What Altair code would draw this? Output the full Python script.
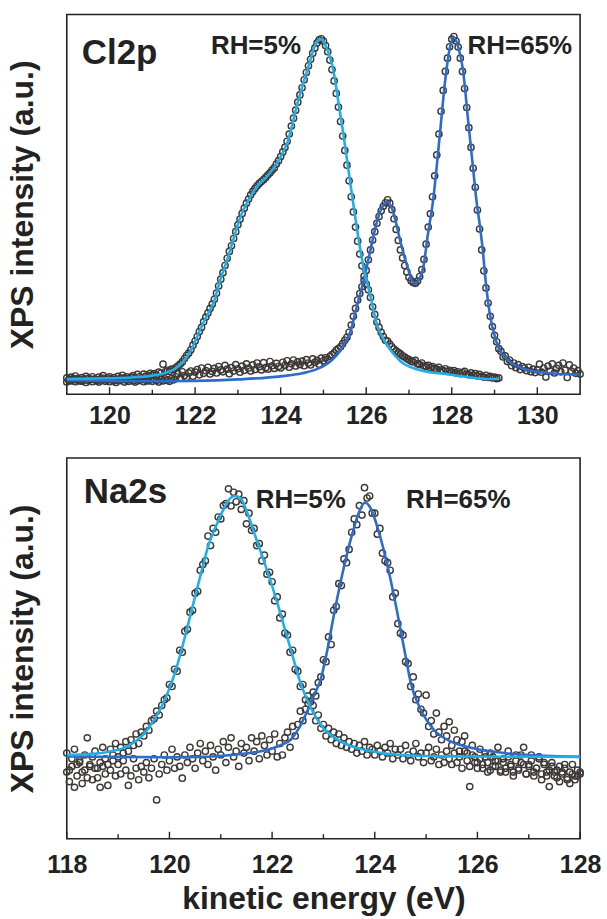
import altair as alt
import pandas as pd

FONT = "Liberation Sans"
CYAN = "#22aee6"
BLUE = "#2c6ccb"
INK = "#222222"
PT = "#3d3835"

# ---------------- top panel (Cl2p) ----------------
TOP_X = [
    119.0, 119.05, 119.1, 119.15, 119.2, 119.25, 119.3, 119.35, 119.4, 119.45,
    119.5, 119.55, 119.6, 119.65, 119.7, 119.75, 119.8, 119.85, 119.9, 119.95,
    120.0, 120.05, 120.1, 120.15, 120.2, 120.25, 120.3, 120.35, 120.4, 120.45,
    120.5, 120.55, 120.6, 120.65, 120.7, 120.75, 120.8, 120.85, 120.9, 120.95,
    121.0, 121.05, 121.1, 121.15, 121.2, 121.25, 121.3, 121.35, 121.4, 121.45,
    121.5, 121.55, 121.6, 121.65, 121.7, 121.75, 121.8, 121.85, 121.9, 121.95,
    122.0, 122.05, 122.1, 122.15, 122.2, 122.25, 122.3, 122.35, 122.4, 122.45,
    122.5, 122.55, 122.6, 122.65, 122.7, 122.75, 122.8, 122.85, 122.9, 122.95,
    123.0, 123.05, 123.1, 123.15, 123.2, 123.25, 123.3, 123.35, 123.4, 123.45,
    123.5, 123.55, 123.6, 123.65, 123.7, 123.75, 123.8, 123.85, 123.9, 123.95,
    124.0, 124.05, 124.1, 124.15, 124.2, 124.25, 124.3, 124.35, 124.4, 124.45,
    124.5, 124.55, 124.6, 124.65, 124.7, 124.75, 124.8, 124.85, 124.9, 124.95,
    125.0, 125.05, 125.1, 125.15, 125.2, 125.25, 125.3, 125.35, 125.4, 125.45,
    125.5, 125.55, 125.6, 125.65, 125.7, 125.75, 125.8, 125.85, 125.9, 125.95,
    126.0, 126.05, 126.1, 126.15, 126.2, 126.25, 126.3, 126.35, 126.4, 126.45,
    126.5, 126.55, 126.6, 126.65, 126.7, 126.75, 126.8, 126.85, 126.9, 126.95,
    127.0, 127.05, 127.1, 127.15, 127.2, 127.25, 127.3, 127.35, 127.4, 127.45,
    127.5, 127.55, 127.6, 127.65, 127.7, 127.75, 127.8, 127.85, 127.9, 127.95,
    128.0, 128.05, 128.1, 128.15, 128.2, 128.25, 128.3, 128.35, 128.4, 128.45,
    128.5, 128.55, 128.6, 128.65, 128.7, 128.75, 128.8, 128.85, 128.9, 128.95,
    129.0, 129.05, 129.1, 129.15, 129.2, 129.25, 129.3, 129.35, 129.4, 129.45,
    129.5, 129.55, 129.6, 129.65, 129.7, 129.75, 129.8, 129.85, 129.9, 129.95,
    130.0, 130.05, 130.1, 130.15, 130.2, 130.25, 130.3, 130.35, 130.4, 130.45,
    130.5, 130.55, 130.6, 130.65, 130.7, 130.75, 130.8, 130.85, 130.9, 130.95,
    131.0,
]
TOP_RH5 = [
    4.3, 3.6, 4.5, 3.9, 4.8, 4.1, 3.5, 4.4, 4.0, 4.7,
    4.2, 3.8, 4.6, 4.0, 3.7, 4.5, 4.1, 4.9, 3.9, 4.3,
    4.6, 4.0, 4.4, 3.8, 4.7, 4.2, 5.0, 4.3, 4.6, 4.1,
    4.5, 4.9, 4.2, 5.2, 4.6, 4.4, 5.3, 4.8, 5.0, 5.5,
    5.1, 5.4, 5.0, 5.8, 5.5, 7.9, 5.9, 6.3, 6.0, 6.6,
    6.5, 7.0, 7.5, 7.9, 8.5, 9.4, 10.2, 10.8, 11.7, 12.9,
    14.0, 15.2, 16.5, 17.6, 19.1, 20.3, 21.4, 22.6, 23.7, 25.0,
    26.6, 28.5, 30.3, 32.0, 33.9, 35.8, 37.6, 39.1, 41.0, 42.8,
    44.6, 46.1, 47.6, 49.0, 50.3, 51.4, 52.5, 53.4, 54.2, 54.9,
    55.5, 56.0, 56.5, 57.1, 57.7, 58.3, 59.0, 59.6, 60.6, 61.5,
    62.6, 63.8, 65.0, 66.6, 68.5, 70.6, 72.7, 74.8, 76.9, 78.8,
    80.7, 82.8, 84.7, 86.5, 88.2, 89.8, 91.2, 92.5, 93.3, 93.6,
    93.0, 91.8, 90.2, 88.0, 85.5, 82.5, 79.2, 75.6, 71.8, 68.0,
    64.2, 60.3, 56.2, 52.0, 48.0, 44.0, 40.3, 36.9, 33.8, 31.1,
    29.0, 27.5, 25.5, 23.0, 21.0, 19.0, 17.6, 16.3, 15.2, 14.2,
    14.0, 13.2, 12.5, 11.9, 11.4, 11.0, 10.6, 10.1, 9.8, 9.4,
    9.1, 8.7, 8.5, 8.9, 8.0, 7.8, 8.2, 7.5, 7.3, 7.6,
    7.0, 7.3, 6.8, 6.6, 7.1, 6.4, 6.2, 6.7, 6.0, 6.3,
    5.8, 6.2, 5.6, 5.9, 5.4, 5.7, 6.0, 5.3, 5.1, 5.6,
    5.0, 5.4, 4.8, 5.2, 4.7, 4.5, 5.0, 4.4, 4.7, 4.3,
    4.5, 4.1, 4.3,
]
TOP_RH65 = [
    3.2, 3.9, 3.5, 4.1, 3.3, 3.7, 4.0, 3.4, 3.8, 3.1,
    3.6, 4.0, 3.3, 3.9, 3.5, 3.2, 3.8, 4.2, 3.4, 3.7,
    3.3, 3.9, 3.5, 3.1, 3.8, 3.6, 4.1, 3.2, 3.7, 3.4,
    3.9, 3.5, 3.2, 3.8, 3.6, 4.2, 3.3, 3.7, 3.5, 3.9,
    3.4, 3.8, 3.6, 3.2, 3.9, 3.5, 4.0, 3.7, 3.4, 4.1,
    3.8, 4.6, 5.4, 4.2, 5.9, 4.9, 4.4, 5.6, 6.1, 4.7,
    5.8, 6.5, 5.1, 6.9, 5.5, 6.2, 7.1, 5.3, 6.0, 6.8,
    5.6, 7.3, 6.4, 5.9, 7.6, 6.6, 5.4, 7.0, 6.1, 7.8,
    6.7, 5.8, 7.4, 6.3, 8.0, 6.9, 6.1, 7.7, 6.5, 8.2,
    7.2, 6.4, 8.3, 7.0, 6.6, 8.6, 7.5, 6.8, 8.1, 7.3,
    6.9, 8.4, 7.6, 8.8, 7.1, 8.0, 9.0, 7.4, 8.5, 7.8,
    8.7, 7.5, 9.1, 8.2, 7.7, 9.3, 8.4, 8.9, 7.9, 9.5,
    8.8, 9.6, 9.2, 10.0, 10.4, 10.9, 11.6, 12.0, 12.5, 13.3,
    14.2, 15.0, 16.3, 18.2, 20.5, 22.6, 24.8, 26.5, 28.3, 30.0,
    32.6, 35.4, 38.0, 40.6, 42.8, 45.0, 46.8, 48.3, 49.5, 50.4,
    51.2, 50.3, 48.6, 46.2, 43.4, 40.5, 38.0, 35.9, 33.9, 32.2,
    30.8, 29.9, 29.4, 29.2, 29.8, 31.0, 32.8, 35.5, 39.5, 44.0,
    47.5, 52.0, 57.5, 63.0, 68.5, 74.5, 80.0, 85.0, 88.5, 91.5,
    93.5, 94.2, 93.0, 91.4, 88.5, 85.0, 80.5, 75.5, 70.2, 65.0,
    59.5, 54.5, 48.5, 43.5, 38.0, 32.5, 28.0, 24.0, 20.5, 17.8,
    15.5, 13.8, 12.0, 11.3, 9.8, 10.1, 8.6, 9.0, 7.5, 8.2,
    7.0, 7.8, 6.5, 7.3, 6.9, 6.2, 7.1, 5.9, 6.6, 5.7,
    6.4, 7.9, 5.8, 6.9, 4.5, 7.4, 6.1, 8.0, 5.6, 6.8,
    7.6, 5.9, 8.2, 6.3, 4.4, 7.7, 6.0, 6.9, 5.5, 6.2,
    5.3,
]
TOP_FIT5_X = [119.0, 119.5, 120.0, 120.5, 121.0, 121.3, 121.5, 121.7, 121.9, 122.0,
              122.2, 122.44, 122.6, 122.76, 122.9, 123.07, 123.23, 123.47, 123.65, 123.84,
              124.0, 124.16, 124.4, 124.63, 124.86, 124.95, 125.05, 125.24, 125.35, 125.47,
              125.58, 125.7, 125.82, 125.94, 126.09, 126.25, 126.48, 126.8, 127.18, 127.95,
              128.95, 129.1]
TOP_FIT5_Y = [4.0, 4.1, 4.2, 4.4, 4.9, 5.6, 6.5, 8.3, 11.5, 13.9,
              19.0, 24.4, 30.5, 35.7, 41.0, 47.0, 50.7, 55.0, 57.0, 59.6,
              62.5, 66.4, 76.9, 85.6, 93.0, 93.5, 91.8, 84.8, 76.9, 68.2,
              59.4, 50.0, 41.0, 33.2, 26.2, 18.4, 13.1, 8.7, 6.6, 5.2,
              4.0, 4.0]
TOP_FIT65_X = [119.0, 120.0, 121.0, 122.0, 123.0, 124.0, 124.5, 124.8, 125.0, 125.2,
               125.4, 125.63, 125.79, 125.93, 126.09, 126.25, 126.4, 126.5, 126.6, 126.8,
               126.95, 127.14, 127.33, 127.44, 127.56, 127.72, 127.84, 127.95, 128.05, 128.15,
               128.26, 128.38, 128.5, 128.58, 128.65, 128.72, 128.8, 128.88, 129.04, 129.27,
               129.74, 130.2, 131.0]
TOP_FIT65_Y = [3.7, 3.5, 3.4, 3.5, 3.9, 4.7, 5.5, 6.4, 7.4, 9.0,
               11.6, 16.5, 23.5, 29.5, 37.5, 45.4, 49.8, 50.6, 49.0, 40.2,
               34.0, 29.1, 33.2, 42.0, 50.7, 68.2, 82.0, 91.0, 94.0, 91.5,
               85.6, 72.4, 59.3, 50.7, 45.0, 38.5, 29.0, 21.8, 13.9, 9.5,
               6.5, 5.6, 5.2]
TOP_MAJOR = [120, 122, 124, 126, 128, 130]
TOP_MINOR = [121, 123, 125, 127, 129]
TOP_LABELS = ["Cl2p", "RH=5%", "RH=65%"]
TOP_LABEL_X = [119.35, 122.37, 128.37]
TOP_LABEL_Y = [86.9, 89.5, 89.5]

# ---------------- bottom panel (Na2s) ----------------
BOT_X = [
    118.0, 118.05, 118.1, 118.15, 118.2, 118.25, 118.3, 118.35, 118.4, 118.45,
    118.5, 118.55, 118.6, 118.65, 118.7, 118.75, 118.8, 118.85, 118.9, 118.95,
    119.0, 119.05, 119.1, 119.15, 119.2, 119.25, 119.3, 119.35, 119.4, 119.45,
    119.5, 119.55, 119.6, 119.65, 119.7, 119.75, 119.8, 119.85, 119.9, 119.95,
    120.0, 120.05, 120.1, 120.15, 120.2, 120.25, 120.3, 120.35, 120.4, 120.45,
    120.5, 120.55, 120.6, 120.65, 120.7, 120.75, 120.8, 120.85, 120.9, 120.95,
    121.0, 121.05, 121.1, 121.15, 121.2, 121.25, 121.3, 121.35, 121.4, 121.45,
    121.5, 121.55, 121.6, 121.65, 121.7, 121.75, 121.8, 121.85, 121.9, 121.95,
    122.0, 122.05, 122.1, 122.15, 122.2, 122.25, 122.3, 122.35, 122.4, 122.45,
    122.5, 122.55, 122.6, 122.65, 122.7, 122.75, 122.8, 122.85, 122.9, 122.95,
    123.0, 123.05, 123.1, 123.15, 123.2, 123.25, 123.3, 123.35, 123.4, 123.45,
    123.5, 123.55, 123.6, 123.65, 123.7, 123.75, 123.8, 123.85, 123.9, 123.95,
    124.0, 124.05, 124.1, 124.15, 124.2, 124.25, 124.3, 124.35, 124.4, 124.45,
    124.5, 124.55, 124.6, 124.65, 124.7, 124.75, 124.8, 124.85, 124.9, 124.95,
    125.0, 125.05, 125.1, 125.15, 125.2, 125.25, 125.3, 125.35, 125.4, 125.45,
    125.5, 125.55, 125.6, 125.65, 125.7, 125.75, 125.8, 125.85, 125.9, 125.95,
    126.0, 126.05, 126.1, 126.15, 126.2, 126.25, 126.3, 126.35, 126.4, 126.45,
    126.5, 126.55, 126.6, 126.65, 126.7, 126.75, 126.8, 126.85, 126.9, 126.95,
    127.0, 127.05, 127.1, 127.15, 127.2, 127.25, 127.3, 127.35, 127.4, 127.45,
    127.5, 127.55, 127.6, 127.65, 127.7, 127.75, 127.8, 127.85, 127.9, 127.95,
    128.0,
]
BOT_RH5 = [
    22.5, 18.0, 21.0, 23.5, 19.5, 20.5, 17.5, 22.0, 26.5, 19.0,
    21.5, 23.0, 18.5, 20.0, 24.0, 21.0, 19.5, 23.5, 22.0, 25.0,
    21.5, 24.0, 22.5, 25.5, 23.0, 26.0, 24.5, 27.5, 25.0, 28.0,
    27.0, 29.5, 28.5, 31.0, 31.5, 33.5, 32.5, 35.0, 36.5, 37.0,
    40.5, 40.0, 44.5, 44.0, 49.5, 49.0, 54.5, 55.0, 59.5, 60.0,
    64.5, 65.0, 70.5, 72.0, 73.0, 79.5, 77.0, 81.5, 80.5, 84.5,
    84.0, 87.5, 88.0, 91.9, 87.4, 91.0, 88.5, 90.5, 86.5, 88.8,
    82.7, 85.5, 81.0, 81.5, 77.0, 77.5, 73.0, 74.5, 69.5, 70.0,
    67.5, 62.5, 63.5, 58.0, 59.0, 54.0, 53.5, 49.0, 49.5, 44.5,
    44.0, 40.0, 40.5, 36.5, 37.5, 33.5, 35.0, 31.0, 32.5, 29.0,
    30.0, 27.0, 29.0, 26.0, 28.0, 25.0, 27.5, 24.5, 26.5, 24.0,
    25.5, 23.5, 25.0, 22.5, 24.5, 23.0, 25.5, 22.0, 24.0, 23.5,
    22.0, 24.5, 23.0, 21.5, 24.0, 22.5, 25.0, 21.0, 23.5, 22.0,
    23.5, 21.0, 24.5, 22.0, 20.5, 23.0, 25.0, 21.5, 22.5, 20.0,
    22.5, 24.0, 20.5, 21.5, 23.5, 19.5, 22.0, 20.0, 23.0, 21.0,
    19.5, 22.5, 20.0, 21.5, 18.5, 23.0, 20.5, 19.0, 22.0, 20.0,
    18.5, 21.0, 19.5, 22.5, 20.0, 18.0, 21.5, 19.0, 20.5, 17.5,
    20.0, 18.5, 21.5, 19.0, 17.5, 20.5, 18.0, 22.0, 19.5, 17.0,
    19.0, 20.5, 17.5, 18.5, 21.0, 17.0, 19.5, 16.5, 18.0, 20.0,
    17.5, 16.0, 19.0, 17.0, 18.5, 15.5, 17.5, 19.5, 16.5, 18.0,
    17.0,
]
BOT_RH65 = [
    17.5, 15.0, 19.0, 13.5, 16.5, 20.0, 14.5, 18.0, 16.0, 19.5,
    15.5, 18.5, 16.0, 13.5, 19.0, 17.0, 14.0, 18.0, 20.5, 16.5,
    19.5, 17.0, 20.5, 18.0, 14.0, 16.5, 21.0, 18.5, 15.5, 19.0,
    17.5, 20.0, 16.0, 18.5, 21.0, 10.2, 17.0, 19.5, 22.0, 18.0,
    20.5, 23.5, 18.5, 21.5, 19.0, 15.9, 22.0, 20.0, 24.0, 21.0,
    18.5, 22.5, 25.0, 20.5, 23.0, 19.5, 24.5, 21.5, 18.0, 23.5,
    22.0, 25.5, 20.0, 24.0, 26.5, 21.5, 23.0, 19.0, 25.0, 22.5,
    24.0, 20.5, 26.5, 23.0, 25.5, 21.0, 27.0, 24.5, 22.0, 26.0,
    23.0, 27.5, 21.5, 25.0, 22.0, 26.5, 28.0, 24.0, 29.5, 27.0,
    30.0, 33.5, 31.0, 34.0, 35.5, 36.0, 38.5, 37.5, 41.0, 42.5,
    47.0, 46.5, 53.0, 51.0, 60.0, 61.0, 67.0, 66.5, 73.5, 72.5,
    76.0, 80.5, 84.0, 82.5, 87.5, 85.0, 92.2, 89.5, 90.0, 85.5,
    85.5, 80.0, 81.5, 75.0, 73.0, 72.5, 70.5, 63.5, 64.5, 56.5,
    54.0, 53.5, 46.5, 46.0, 40.0, 42.5, 36.5, 38.0, 34.0, 33.0,
    37.7, 29.5, 31.0, 27.5, 33.0, 28.0, 26.0, 29.5, 27.0, 30.7,
    24.5, 28.5, 26.0, 23.0, 25.5, 27.0, 22.5, 13.7, 24.5, 21.5,
    20.0, 23.5, 18.5, 21.5, 17.5, 22.5, 19.0, 20.5, 24.0, 18.0,
    21.0, 17.5, 23.0, 19.5, 16.5, 22.0, 18.5, 20.0, 24.0, 17.0,
    19.5, 22.0, 16.5, 18.5, 21.5, 15.5, 20.0, 17.5, 13.7, 19.0,
    16.5, 18.0, 15.0, 17.5, 19.5, 16.0, 14.5, 17.0, 15.5, 16.5,
    17.5,
]
BOT_FIT5_X = [118.0, 118.5, 118.8, 119.1, 119.3, 119.5, 119.7, 119.85, 120.0, 120.15,
              120.32, 120.47, 120.62, 120.77, 120.92, 121.06, 121.2, 121.3, 121.4, 121.52,
              121.66, 121.8, 121.95, 122.1, 122.25, 122.4, 122.55, 122.7, 122.85, 123.0,
              123.2, 123.45, 123.86, 124.5, 125.5, 128.0]
BOT_FIT5_Y = [22.0, 22.3, 22.8, 23.8, 25.2, 27.5, 31.2, 34.8, 39.5, 45.5,
              54.0, 62.0, 70.0, 77.5, 82.5, 86.7, 89.6, 90.0, 89.2, 85.5,
              80.0, 74.5, 68.5, 62.0, 55.0, 48.0, 41.0, 36.0, 32.0, 29.0,
              26.7, 24.8, 23.2, 22.0, 21.6, 21.5]
BOT_FIT65_X = [118.0, 119.0, 120.0, 120.6, 121.2, 121.6, 121.9, 122.15, 122.36, 122.56,
               122.7, 122.83, 122.95, 123.06, 123.2, 123.36, 123.56, 123.7, 123.81, 123.93,
               124.07, 124.27, 124.43, 124.6, 124.7, 124.9, 125.16, 125.49, 125.94, 126.6,
               127.3, 128.0]
BOT_FIT65_Y = [21.6, 21.5, 21.4, 21.5, 22.0, 22.6, 23.3, 24.5, 26.0, 30.0,
               34.0, 38.1, 42.0, 48.5, 58.5, 69.0, 80.0, 86.0, 88.3, 86.5,
               81.0, 70.4, 60.0, 48.0, 41.0, 33.8, 28.5, 25.5, 23.7, 22.4,
               21.8, 21.5]
BOT_MAJOR = [118, 120, 122, 124, 126, 128]
BOT_MINOR = [119, 121, 123, 125, 127]
BOT_LABELS = ["Na2s", "RH=5%", "RH=65%"]
BOT_LABEL_X = [118.33, 121.68, 124.61]
BOT_LABEL_Y = [88.2, 86.9, 86.9]


def panel(xs, s5, s65, f5x, f5y, f65x, f65y, dom, major, minor,
          labels, lx, ly, w, h, xtitle, label_pad):
    pts = pd.DataFrame({
        "x": list(xs[:len(s5)]) + list(xs[:len(s65)]),
        "y": list(s5) + list(s65),
    })
    fit5 = pd.DataFrame({"x": f5x, "y": f5y})
    fit65 = pd.DataFrame({"x": f65x, "y": f65y})
    xscale = alt.Scale(domain=dom, nice=False, zero=False)
    yscale = alt.Scale(domain=[0, 100], nice=False, zero=False)
    xaxis = alt.Axis(values=major, format="d", labelFont=FONT, labelFontSize=25,
                     labelFontWeight="bold", labelColor=INK, labelPadding=label_pad,
                     labelFlush=False, labelOverlap=False, ticks=False, domain=False,
                     grid=False, title=xtitle, titleFont=FONT, titleFontSize=32,
                     titleFontWeight="bold", titleColor=INK, titlePadding=6)
    yaxis = alt.Axis(labels=False, ticks=False, domain=False, grid=False,
                     title="XPS intensity (a.u.)", titleFont=FONT, titleFontSize=32,
                     titleFontWeight="bold", titleColor=INK, titlePadding=27)

    base_pts = alt.Chart(pts).mark_point(
        shape="circle", filled=False, size=40, strokeWidth=1.4, color=PT, opacity=1
    ).encode(x=alt.X("x:Q", scale=xscale, axis=xaxis),
             y=alt.Y("y:Q", scale=yscale, axis=yaxis))

    l65 = alt.Chart(fit65).mark_line(interpolate="monotone", color=BLUE,
                                     strokeWidth=2.6).encode(x="x:Q", y="y:Q")
    l5 = alt.Chart(fit5).mark_line(interpolate="monotone", color=CYAN,
                                   strokeWidth=2.6).encode(x="x:Q", y="y:Q")

    tmaj = alt.Chart(pd.DataFrame({"t": major})).mark_rule(
        color=INK, strokeWidth=1.4).encode(x="t:Q", y=alt.value(h), y2=alt.value(h - 7))
    tmin = alt.Chart(pd.DataFrame({"t": minor})).mark_rule(
        color=INK, strokeWidth=1.4).encode(x="t:Q", y=alt.value(h), y2=alt.value(h - 4.5))

    lab = pd.DataFrame({"t": labels, "x": lx, "y": ly})
    name = alt.Chart(lab.iloc[:1]).mark_text(
        align="left", baseline="alphabetic", font=FONT, fontSize=35,
        fontWeight="bold", color=INK).encode(x="x:Q", y="y:Q", text="t:N")
    rh = alt.Chart(lab.iloc[1:]).mark_text(
        align="left", baseline="alphabetic", font=FONT, fontSize=26,
        fontWeight="bold", color=INK).encode(x="x:Q", y="y:Q", text="t:N")

    return alt.layer(base_pts, l65, l5, tmaj, tmin, name, rh).properties(width=w, height=h)


top = panel(TOP_X, TOP_RH5, TOP_RH65, TOP_FIT5_X, TOP_FIT5_Y, TOP_FIT65_X, TOP_FIT65_Y,
            [119, 131], TOP_MAJOR, TOP_MINOR, TOP_LABELS, TOP_LABEL_X, TOP_LABEL_Y,
            515, 381, None, 9)
bottom = panel(BOT_X, BOT_RH5, BOT_RH65, BOT_FIT5_X, BOT_FIT5_Y, BOT_FIT65_X, BOT_FIT65_Y,
               [118, 128], BOT_MAJOR, BOT_MINOR, BOT_LABELS, BOT_LABEL_X, BOT_LABEL_Y,
               515, 382, "kinetic energy (eV)", 14)

chart = alt.vconcat(top, bottom, spacing=64, bounds="flush").properties(
    padding={"left": 6, "top": 12, "right": 5, "bottom": 0},
    background="white",
).configure_view(stroke=INK, strokeWidth=1.6)

chart.save("out.html", embed_options={"renderer": "svg", "actions": False})
